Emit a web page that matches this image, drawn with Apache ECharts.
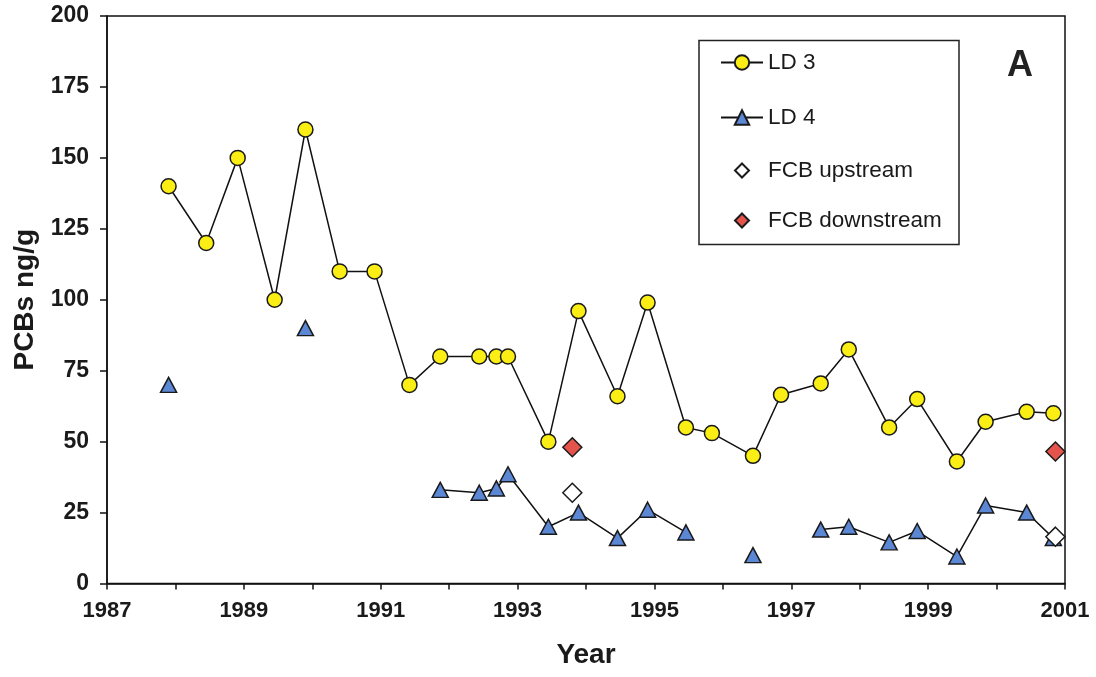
<!DOCTYPE html>
<html>
<head>
<meta charset="utf-8">
<script src="https://cdn.jsdelivr.net/npm/echarts@6/dist/echarts.min.js"></script>
<style>
html,body{margin:0;padding:0;background:#fff;}
#chart{width:1096px;height:677px;}
</style>
</head>
<body>
<div id="chart"></div>
<script>
// Sampling dates (decimal years)
const sampleYears = [1987.90, 1988.45, 1988.91, 1989.45, 1989.90, 1990.40, 1990.91, 1991.42, 1991.87, 1992.44, 1992.69, 1992.86, 1993.45, 1993.89, 1994.46, 1994.90, 1995.46, 1995.84, 1996.44, 1996.85, 1997.43, 1997.84, 1998.43, 1998.84, 1999.42, 1999.84, 2000.44, 2000.83];
const ld3 = [140, 120, 150, 100, 160, 110, 110, 70, 80, 80, 80, 80, 50, 96, 66, 99, 55, 53, 45, 66.5, 70.5, 82.5, 55, 65, 43, 57, 60.5, 60];
const ld4 = [70, null, null, null, 90, null, null, null, 33, 32, 33.5, 38.5, 20, 25, 16, 26, 18, null, 10, null, 19, 20, 14.5, 18.5, 9.5, 27.5, 25, 16];
const fcbYears = [1993.80, 2000.86];
const fcbUpstream = [32, 16.5];
const fcbDownstream = [48, 46.5];
const lineNames = ['LD 3', 'LD 4'];
const pointNames = ['FCB upstream', 'FCB downstream'];
const panelLabel = 'A';

const pair = (xs, ys) => xs.map((x, i) => [x, ys[i] === null ? '-' : ys[i]]);

const FONT = 'Liberation Sans, Arial, sans-serif';
const chart = echarts.init(document.getElementById('chart'), null, {renderer: 'canvas'});
const edge = '#1a1a1a';
const legendText = {fontFamily: FONT, fontSize: 22.5, color: '#1a1a1a', lineHeight: 22};

chart.setOption({
  animation: false,
  backgroundColor: '#fff',
  grid: {left: 107, right: 31, top: 16, bottom: 93.5, show: true, borderColor: '#111', borderWidth: 1.5, backgroundColor: 'transparent'},
  legend: [
    {
      orient: 'vertical', left: 720, top: 51, padding: 0,
      data: lineNames,
      itemWidth: 42, itemHeight: 18, itemGap: 32,
      textStyle: legendText
    },
    {
      orient: 'vertical', left: 734, top: 159, padding: 0,
      data: pointNames,
      itemWidth: 14, itemHeight: 14, itemGap: 27,
      textStyle: Object.assign({}, legendText, {padding: [0, 0, 0, 14]})
    }
  ],
  graphic: [
    {
      type: 'rect', z: 100,
      shape: {x: 699, y: 40.5, width: 260, height: 204},
      style: {fill: 'none', stroke: '#222', lineWidth: 1.5}
    },
    {
      type: 'text', left: 1007, top: 48, z: 100,
      style: {text: panelLabel, font: 'bold 36px ' + FONT, fill: '#222'}
    }
  ],
  xAxis: {
    type: 'value', min: 1987, max: 2001, interval: 1,
    name: 'Year', nameLocation: 'middle', nameGap: 58,
    nameTextStyle: {fontFamily: FONT, fontWeight: 'bold', fontSize: 28, color: '#1a1a1a'},
    axisLine: {show: true, onZero: false, lineStyle: {color: '#111', width: 1.5}},
    axisTick: {show: true, length: 6, lineStyle: {color: '#111', width: 1.5}},
    axisLabel: {
      margin: 16, fontFamily: FONT, fontWeight: 'bold', fontSize: 22, color: '#1a1a1a',
      formatter: v => (Math.round(v - 1987) % 2 === 0 ? String(Math.round(v)) : '')
    },
    splitLine: {show: false}
  },
  yAxis: {
    type: 'value', min: 0, max: 200, interval: 25,
    name: 'PCBs ng/g', nameLocation: 'middle', nameGap: 68,
    nameTextStyle: {fontFamily: FONT, fontWeight: 'bold', fontSize: 28, color: '#1a1a1a'},
    axisLine: {show: true, lineStyle: {color: '#111', width: 1.5}},
    axisTick: {show: true, length: 7, lineStyle: {color: '#111', width: 1.5}},
    axisLabel: {margin: 18, fontFamily: FONT, fontWeight: 'bold', fontSize: 23, color: '#1a1a1a'},
    splitLine: {show: false}
  },
  series: [
    {
      name: 'LD 3', type: 'line', data: pair(sampleYears, ld3),
      symbol: 'circle', symbolSize: 15,
      lineStyle: {color: '#111', width: 1.5},
      itemStyle: {color: '#fbee14', borderColor: edge, borderWidth: 1.5},
      connectNulls: false, z: 3
    },
    {
      name: 'LD 4', type: 'line', data: pair(sampleYears, ld4),
      symbol: 'triangle', symbolSize: [16, 15],
      lineStyle: {color: '#111', width: 1.5},
      itemStyle: {color: '#5b87d4', borderColor: edge, borderWidth: 1.5},
      connectNulls: false, z: 3
    },
    {
      name: 'FCB upstream', type: 'scatter', data: pair(fcbYears, fcbUpstream),
      symbol: 'diamond', symbolSize: 19,
      itemStyle: {color: '#ffffff', borderColor: edge, borderWidth: 1.5, opacity: 1},
      z: 5
    },
    {
      name: 'FCB downstream', type: 'scatter', data: pair(fcbYears, fcbDownstream),
      symbol: 'diamond', symbolSize: 19,
      itemStyle: {color: '#e4534c', borderColor: edge, borderWidth: 1.5, opacity: 1},
      z: 5
    }
  ]
});
</script>
</body>
</html>
